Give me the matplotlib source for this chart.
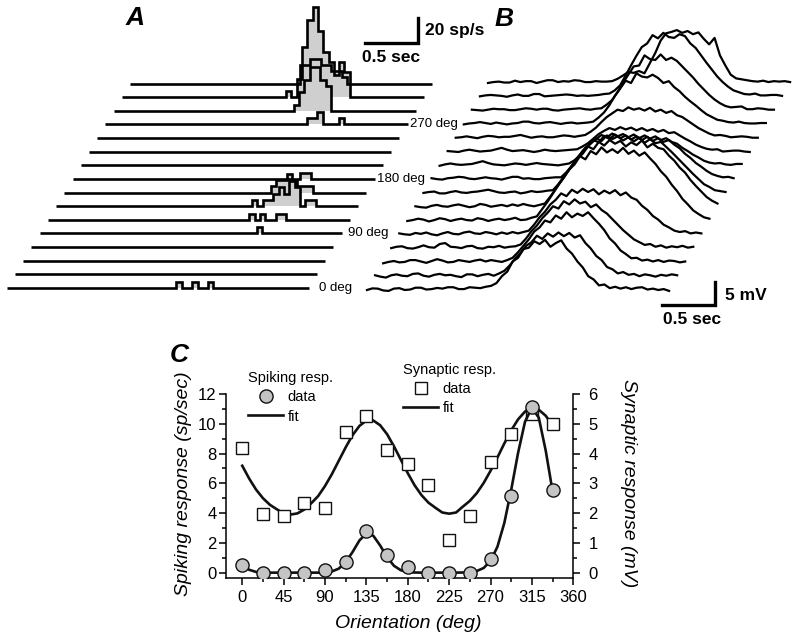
import numpy as np
import matplotlib.pyplot as plt
from matplotlib.lines import Line2D

plt.rcParams['font.family'] = ['Liberation Sans', 'DejaVu Sans']

# ---------------- data ----------------
# panel A: PSTH rates (sp/s), 50 ms bins, trace i = orientation 22.5*i
bin_width = 0.05
n_bins = 57
hist_first_bin = {0: 32, 4: 41, 5: 38, 6: 37, 7: 39, 8: 43, 12: 38, 13: 34, 14: 31, 15: 32}
hist_rates = {
    0: [5, 0, 0, 5, 0, 0, 5],
    4: [5],
    5: [5, 0, 5, 0, 0, 5, 5],
    6: [5, 0, 5, 5, 10, 15, 10, 20, 15, 0, 5, 5],
    7: [5, 10, 10, 15, 10, 5, 5, 5],
    8: [5, 5],
    12: [5, 5, 10, 0, 0, 0, 5],
    13: [5, 15, 25, 35, 35, 25, 20],
    14: [5, 0, 15, 40, 62, 72, 53, 36, 28, 18, 28, 20],
    15: [15, 15, 20, 20, 15, 15, 10, 10, 5],
}
label_traces = [0, 4, 8, 12]
label_texts = ['0 deg', '90 deg', '180 deg', '270 deg']
label_t = [2.95, 2.91, 2.87, 2.87]

# panel B: membrane potential (mV), 57 samples over 2.85 s, trace i = 22.5*i deg
vm_traces = [
    [0.0, 0.35, 0.3, -0.1, -0.2, 0.3, 0.4, 0.0, 0.1, 0.5, 0.5, 0.1, 0.2, 0.45, 0.3, 0.6, 0.6, 0.2, 0.2, 0.6, 0.5, 0.4, 0.7, 0.9,
     1.5, 3.0, 4.0, 6.2, 7.0, 8.9, 9.2, 10.6, 10.0, 10.9, 9.4, 10.2, 10.8, 9.0, 7.9, 6.2, 4.9, 3.0, 2.3, 1.0, 1.2, 0.4, 0.7, 0.3, 0.6, 0.2, 0.5, 0.6, 0.1, 0.3, 0.0, 0.2, -0.2],
    [0.2, -0.1, -0.3, 0.2, 0.4, 0.1, 0.0, 0.5, 0.6, 0.1, -0.1, 0.3, 0.5, 0.2, 0.3, 0.0, -0.2, 0.4, 0.4, 0.0, 0.3, 0.5, 0.1, 0.6,
     1.2, 2.4, 3.9, 5.1, 6.6, 7.4, 8.8, 8.1, 9.3, 8.6, 9.5, 8.7, 9.4, 8.4, 8.9, 7.2, 6.0, 4.4, 3.5, 2.0, 1.5, 0.6, 0.9, 0.3, 0.5, 0.0, 0.4, 0.2, -0.1, 0.3, 0.1, 0.4, 0.2],
    [-0.2, 0.1, 0.3, 0.0, 0.1, 0.5, 0.5, 0.2, -0.1, 0.3, 0.7, 0.4, 0.0, 0.1, 0.5, 0.3, 0.1, 0.4, 0.6, 0.2, 0.5, 0.3, 0.1, 0.5,
     1.0, 2.2, 3.6, 5.0, 6.7, 7.6, 9.1, 8.7, 10.2, 9.5, 10.9, 9.8, 10.6, 10.1, 10.9, 9.6, 8.4, 7.0, 5.2, 4.1, 2.6, 1.8, 0.9, 1.0, 0.4, 0.6, 0.2, 0.5, 0.1, 0.4, 0.3, 0.0, 0.2],
    [0.1, 0.4, 0.5, 0.1, 0.0, 0.3, 0.7, 0.3, 0.2, 1.0, 1.2, 0.4, 0.3, 0.1, 0.5, 0.6, 0.1, 0.0, 0.4, 0.3, 0.6, 0.2, 0.4, 0.5,
     0.9, 2.2, 3.8, 5.0, 6.6, 7.8, 9.2, 8.7, 10.3, 9.6, 10.7, 9.8, 10.2, 9.0, 9.6, 8.4, 7.6, 6.4, 5.2, 4.0, 3.0, 2.0, 1.4, 0.8, 1.0, 0.4, 0.7, 0.2, 0.5, 0.3, 0.6, 0.2, 0.4],
    [0.3, 0.1, 0.0, 0.4, 0.2, 0.5, 0.1, -0.1, 0.3, 0.6, 0.2, 0.1, 0.5, 0.7, 0.3, 0.2, 0.6, 0.4, 0.1, 0.5, 0.2, 0.6, 0.3, 0.6,
     0.9, 2.2, 3.8, 5.0, 6.6, 7.6, 9.0, 8.4, 9.8, 9.1, 10.0, 9.3, 9.9, 8.8, 9.6, 9.0, 9.7, 8.6, 9.2, 8.1, 7.6, 6.3, 5.4, 4.1, 3.3, 2.2, 1.6, 0.9, 0.6, 0.8, 0.3, 0.5, 0.3],
    [0.0, 0.2, 0.5, 0.3, -0.1, 0.2, 0.6, 0.4, 0.0, 0.3, 0.5, 0.2, 0.1, 0.6, 0.4, 0.0, 0.3, 0.5, 0.2, 0.4, 0.7, 0.2, 0.3, 0.7,
     1.0, 2.6, 4.2, 6.0, 7.9, 9.4, 11.2, 12.3, 14.1, 13.4, 15.2, 14.5, 16.0, 14.9, 15.6, 14.8, 15.9, 14.6, 15.3, 14.2, 14.9, 13.6, 12.4, 10.8, 9.6, 7.9, 6.5, 4.8, 3.6, 2.3, 1.5, 0.8, 0.5],
    [0.2, 0.0, -0.1, 0.3, 0.5, 0.2, 0.1, 0.4, 0.6, 0.3, 0.0, 0.2, 0.7, 0.5, 0.1, 0.3, 0.5, 0.2, 0.6, 0.3, 0.7, 0.4, 0.2, 0.5,
     0.8, 2.3, 3.9, 5.6, 7.3, 8.9, 10.6, 11.6, 13.2, 12.6, 14.2, 13.4, 14.6, 13.8, 14.4, 13.2, 14.1, 13.5, 14.5, 13.0, 13.8, 12.9, 12.6, 11.2, 10.1, 8.6, 7.5, 5.9, 4.6, 3.4, 2.2, 1.4, 0.8],
    [0.1, 0.3, 0.4, 0.0, 0.0, 0.3, 0.5, 0.2, 0.1, 0.3, 0.4, 0.6, 0.8, 0.5, 0.2, 0.1, 0.3, 0.4, 0.0, 0.2, 0.5, 0.3, 0.4, 0.6,
     0.7, 2.0, 3.6, 5.2, 6.9, 8.4, 9.9, 10.8, 12.0, 11.4, 12.6, 11.8, 12.4, 11.5, 12.2, 11.3, 12.1, 11.0, 11.8, 10.9, 11.2, 10.1, 9.0, 7.8, 6.6, 5.4, 4.2, 3.1, 2.0, 1.4, 0.7, 0.5, 0.3],
    [0.3, 0.1, 0.0, 0.3, 0.4, 0.6, 0.5, 0.2, 0.1, 0.3, 0.5, 0.3, 0.2, 0.0, 0.3, 0.6, 0.6, 0.2, 0.3, 0.1, 0.1, 0.3, 0.4, 0.5,
     0.5, 1.6, 3.0, 4.6, 6.2, 7.4, 8.6, 8.1, 9.5, 8.8, 9.8, 9.0, 9.6, 8.7, 9.4, 8.6, 9.3, 8.4, 9.0, 8.2, 8.6, 7.6, 6.8, 5.6, 4.7, 3.6, 2.8, 1.9, 1.2, 0.8, 0.5, 0.6, 0.3],
    [0.0, 0.3, 0.5, 0.3, 0.2, 0.3, 0.4, 0.7, 1.0, 0.6, 0.3, 0.2, 0.1, 0.3, 0.5, 0.4, 0.2, 0.4, 0.6, 0.4, 0.3, 0.2, 0.1, 0.3,
     0.5, 1.2, 2.3, 3.6, 4.9, 5.8, 6.7, 6.2, 7.0, 6.4, 6.9, 6.2, 6.8, 6.0, 6.6, 5.9, 6.4, 5.6, 6.0, 5.2, 4.8, 3.9, 3.2, 2.4, 1.8, 1.1, 0.7, 0.5, 0.6, 0.3, 0.2, 0.4, 0.4],
    [0.2, 0.1, 0.0, 0.3, 0.5, 0.3, 0.1, 0.2, 0.3, 0.6, 0.9, 0.5, 0.2, 0.3, 0.4, 0.2, 0.0, 0.2, 0.5, 0.3, 0.2, 0.3, 0.4, 0.5,
     0.6, 1.2, 1.9, 2.9, 3.9, 4.6, 5.2, 4.8, 5.4, 4.9, 5.3, 4.7, 5.2, 4.6, 5.0, 4.4, 4.8, 4.1, 4.3, 3.6, 2.9, 2.3, 1.6, 1.1, 0.7, 0.5, 0.6, 0.1, 0.2, 0.3, 0.3, 0.1, 0.0],
    [0.1, 0.2, 0.4, 0.2, 0.0, 0.3, 0.5, 0.4, 0.2, 0.3, 0.3, 0.5, 0.7, 0.4, 0.1, 0.3, 0.4, 0.2, 0.2, 0.4, 0.6, 0.5, 0.3, 0.5,
     0.7, 1.4, 2.3, 3.5, 4.6, 5.4, 6.2, 5.9, 6.7, 6.2, 6.5, 6.0, 6.6, 5.8, 6.2, 5.5, 5.9, 5.0, 4.6, 3.8, 3.0, 2.2, 1.6, 1.0, 0.6, 0.7, 0.5, 0.2, 0.3, 0.4, 0.3, 0.1, 0.1],
    [0.0, 0.2, 0.3, 0.5, 0.3, 0.1, 0.4, 0.2, 0.0, 0.2, 0.3, 0.6, 0.6, 0.3, 0.2, 0.4, 0.5, 0.3, 0.1, 0.3, 0.4, 0.2, 0.3, 0.4,
     0.6, 1.5, 2.6, 4.2, 6.2, 7.8, 9.5, 9.0, 11.1, 10.4, 10.2, 10.8, 10.1, 9.0, 9.4, 8.1, 7.2, 6.0, 5.0, 4.1, 3.1, 2.2, 1.6, 1.0, 0.8, 0.5, 0.4, 0.6, 0.3, 0.2, 0.2, 0.3, 0.3],
    [0.2, 0.1, 0.0, 0.2, 0.4, 0.3, 0.3, 0.1, 0.1, 0.3, 0.5, 0.4, 0.2, 0.4, 0.4, 0.1, 0.0, 0.2, 0.3, 0.4, 0.5, 0.3, 0.2, 0.4,
     0.5, 1.3, 2.3, 4.0, 6.0, 7.8, 9.6, 9.8, 12.0, 11.2, 11.0, 12.2, 11.0, 11.5, 10.8, 9.6, 8.4, 7.2, 5.8, 4.6, 3.4, 2.4, 1.6, 1.0, 0.7, 0.8, 0.9, 0.3, 0.3, 0.5, 0.4, 0.2, 0.2],
    [0.1, 0.3, 0.4, 0.3, 0.2, 0.0, 0.3, 0.5, 0.2, 0.2, 0.6, 0.6, 0.1, 0.2, 0.3, 0.4, 0.5, 0.4, 0.2, 0.3, 0.2, 0.3, 0.4, 0.6,
     0.7, 1.4, 2.5, 4.6, 6.8, 8.9, 10.8, 11.6, 13.4, 12.7, 13.9, 13.0, 12.8, 13.6, 13.2, 11.6, 10.6, 9.0, 7.4, 5.9, 4.4, 3.2, 2.2, 1.4, 1.0, 0.6, 0.5, 0.7, 0.3, 0.3, 0.4, 0.4, 0.2],
    [0.0, 0.2, 0.3, 0.1, 0.1, 0.5, 0.2, 0.4, 0.4, 0.0, 0.3, 0.6, 0.6, 0.2, 0.4, 0.3, 0.6, 0.5, 0.2, 0.2, 0.4, 0.3, 0.3, 0.4,
     0.9, 1.6, 2.4, 2.2, 2.6, 2.1, 4.3, 6.5, 9.2, 10.8, 11.1, 11.5, 10.9, 11.3, 10.6, 11.0, 9.6, 8.4, 9.8, 6.0, 3.8, 1.8, 1.0, 0.8, 0.6, 0.4, 0.3, 0.5, 0.2, 0.4, 0.3, 0.4, 0.2],
]
trace_dur = 2.85

# panel C: tuning curves
orient = [0, 22.5, 45, 67.5, 90, 112.5, 135, 157.5, 180, 202.5, 225, 247.5, 270, 292.5, 315, 337.5]
spike_data = [0.51, 0, 0, 0, 0.18, 0.69, 2.82, 1.19, 0.36, 0, 0, 0, 0.9, 5.17, 11.1, 5.55]
syn_data = [4.2, 1.96, 1.91, 2.33, 2.18, 4.74, 5.26, 4.12, 3.64, 2.95, 1.10, 1.91, 3.73, 4.66, 5.32, 4.98]
fit_deg = np.arange(0, 340, 7.5)
spike_fit = [0.56, 0.19, 0.05, 0.01, 0, 0, 0, 0, 0, 0, 0, 0,
             0.02, 0.08, 0.27, 0.70, 1.39, 2.17, 2.63, 2.48, 1.82, 1.04, 0.46, 0.16,
             0.04, 0.01, 0, 0, 0, 0, 0, 0, 0.01, 0.03, 0.11, 0.31,
             0.79, 1.74, 3.34, 5.57, 8.06, 10.14, 11.09, 10.4, 8.2, 5.45]
syn_fit = [3.59, 3.16, 2.79, 2.50, 2.28, 2.13, 1.99, 1.95, 1.99, 2.12, 2.33, 2.57,
           2.91, 3.31, 3.76, 4.21, 4.62, 4.93, 5.11, 5.11, 4.95, 4.65, 4.24, 3.79,
           3.34, 2.93, 2.60, 2.35, 2.18, 2.02, 1.98, 2.02, 2.22, 2.41, 2.67, 3.01,
           3.42, 3.87, 4.34, 4.78, 5.15, 5.41, 5.52, 5.47, 5.27, 4.94]

# ---------------- figure ----------------
W, H = 800, 641
fig = plt.figure(figsize=(W / 100, H / 100), dpi=100)


def px_axes(x0, y0, x1, y1):
    return fig.add_axes([x0 / W, 1 - y1 / H, (x1 - x0) / W, (y1 - y0) / H])


# panel A
dxA, dyA = 0.0776, 10.9
axA = px_axes(0, 0, 450, 310)
axA.set_xlim(-0.0632, 4.182)
axA.set_ylim(-17.6, 230.4)
axA.axis('off')
axA.patch.set_alpha(0)
edges = np.arange(n_bins + 1) * bin_width
for i in range(16):
    rates = np.zeros(n_bins)
    if i in hist_rates:
        k = hist_first_bin[i]
        rates[k:k + len(hist_rates[i])] = hist_rates[i]
    off = i * dyA
    axA.stairs(rates + off, edges + i * dxA, baseline=off, fill=True,
               color='#cfcfcf', lw=0, zorder=1)
    axA.stairs(rates + off, edges + i * dxA, baseline=off, color='k',
               lw=1.9, zorder=2)
for i, txt, lt in zip(label_traces, label_texts, label_t):
    axA.text(lt + i * dxA, i * dyA, txt, fontsize=9.5, va='center', ha='left')
# scale bar A
axA.plot([3.38, 3.88, 3.88], [196, 196, 216], color='k', lw=2.4, solid_joinstyle='miter')
axA.text(3.946, 205.6, '20 sp/s', fontsize=12.5, fontweight='bold', va='center', ha='left')
axA.text(3.63, 184, '0.5 sec', fontsize=12.5, fontweight='bold', va='center', ha='center')
fig.text(135 / W, 1 - 18 / H, 'A', fontsize=19, fontweight='bold', style='italic',
         ha='center', va='center')

# panel B
dxB, dyB = 0.0761, 3.0
axB = px_axes(340, 0, 800, 330)
axB.set_xlim(-0.2547, 4.085)
axB.set_ylim(-8.696, 63.04)
axB.axis('off')
axB.patch.set_alpha(0)
tB = np.linspace(0, trace_dur, 57)
for i, tr in enumerate(vm_traces):
    axB.plot(tB + i * dxB, np.array(tr) + i * dyB, color='k', lw=1.6)
axB.plot([2.783, 3.283, 3.283], [-3.26, -3.26, 1.74], color='k', lw=2.4, solid_joinstyle='miter')
axB.text(3.377, -1.3, '5 mV', fontsize=12.5, fontweight='bold', va='center', ha='left')
axB.text(3.066, -6.52, '0.5 sec', fontsize=12.5, fontweight='bold', va='center', ha='center')
fig.text(504 / W, 1 - 19 / H, 'B', fontsize=19, fontweight='bold', style='italic',
         ha='center', va='center')

# panel C
axS = px_axes(225.7, 394, 573.3, 578)
axK = axS.twinx()
axS.set_xlim(-18, 360)
axS.set_ylim(-0.18, 6)
axK.set_ylim(-0.36, 12)
for sp in ['top', 'left']:
    axS.spines[sp].set_visible(False)
for sp in ['top', 'right', 'bottom']:
    axK.spines[sp].set_visible(False)
for a in (axS, axK):
    for sp in a.spines.values():
        sp.set_linewidth(1.1)
axS.yaxis.tick_right()
axK.yaxis.tick_left()
axS.set_xticks(np.arange(0, 361, 45))
axS.set_xticks(np.arange(0, 361, 22.5), minor=True)
axS.set_yticks(np.arange(0, 7, 1))
axS.set_yticks(np.arange(0, 6.1, 0.5), minor=True)
axK.set_yticks(np.arange(0, 13, 2))
axK.set_yticks(np.arange(0, 12.1, 1), minor=True)
for a in (axS, axK):
    a.tick_params(which='major', direction='out', length=5, width=1.1, labelsize=12)
    a.tick_params(which='minor', direction='out', length=3, width=1.1)
axK.tick_params(axis='y', which='major', pad=1.5)
axS.tick_params(axis='y', which='major', pad=6)
axS.tick_params(axis='x', which='major', pad=4)

axS.plot(fit_deg, syn_fit, color='#111111', lw=1.9, zorder=2)
axS.plot(orient, syn_data, ls='none', marker='s', ms=8.5, mfc='white', mec='#111111',
         mew=1.0, zorder=3)
axK.plot(fit_deg, spike_fit, color='#111111', lw=1.9, zorder=2)
axK.plot(orient, spike_data, ls='none', marker='o', ms=9.5, mfc='#c4c4c4', mec='#111111',
         mew=1.0, zorder=3)

fig.text(183 / W, 1 - 484 / H, 'Spiking response (sp/sec)', rotation=90, style='italic',
         fontsize=14, ha='center', va='center')
fig.text(629 / W, 1 - 483 / H, 'Synaptic response (mV)', rotation=270, style='italic',
         fontsize=14, ha='center', va='center')
fig.text(408 / W, 1 - 623 / H, 'Orientation (deg)', style='italic',
         fontsize=14, ha='center', va='center')
fig.text(179 / W, 1 - 355 / H, 'C', fontsize=19, fontweight='bold', style='italic',
         ha='center', va='center')

# legends
h1 = [Line2D([], [], ls='none', marker='o', ms=9.5, mfc='#c4c4c4', mec='#111111'),
      Line2D([], [], color='#111111', lw=1.9)]
fig.legend(h1, ['data', 'fit'], title='Spiking resp.', loc='upper left',
           bbox_to_anchor=(241 / W, 1 - 364 / H), frameon=False, fontsize=10.5,
           title_fontsize=10.5, handlelength=2.4, handletextpad=0.3,
           labelspacing=0.35, borderpad=0, alignment='left')
h2 = [Line2D([], [], ls='none', marker='s', ms=8.5, mfc='white', mec='#111111'),
      Line2D([], [], color='#111111', lw=1.9)]
fig.legend(h2, ['data', 'fit'], title='Synaptic resp.', loc='upper left',
           bbox_to_anchor=(396 / W, 1 - 356 / H), frameon=False, fontsize=10.5,
           title_fontsize=10.5, handlelength=2.4, handletextpad=0.3,
           labelspacing=0.35, borderpad=0, alignment='left')

fig.savefig('out.png', dpi=100)
